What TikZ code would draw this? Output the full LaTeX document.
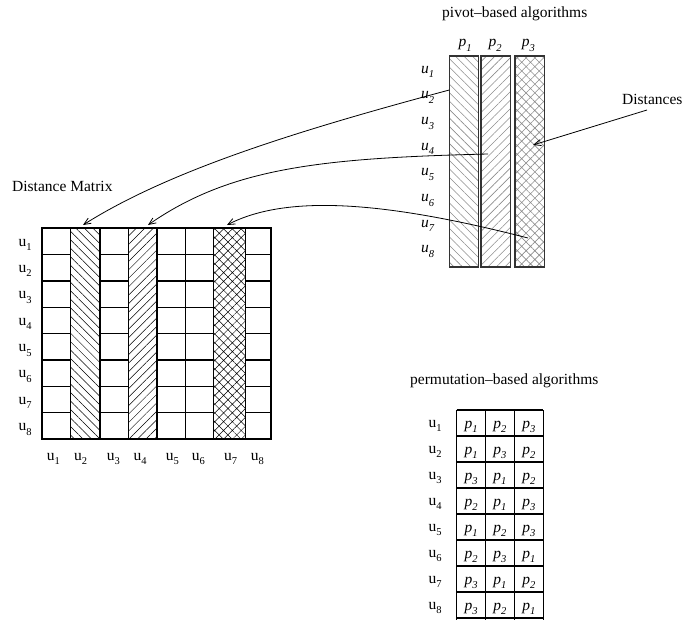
\documentclass[tikz,border=0pt]{standalone}
\usepackage{fontspec}
\setmainfont{Liberation Serif}
\usetikzlibrary{patterns.meta,arrows.meta}
\newcommand\lbsz{\fontsize{15.5}{18}\selectfont}
\newcommand\subsz{\fontsize{10.5}{12}\selectfont}
\newcommand\uu[1]{u\raisebox{-0.3em}{\subsz #1}}
\newcommand\iu[1]{\textit{u}\raisebox{-0.3em}{\subsz\itshape #1}}
\newcommand\ip[1]{\textit{p}\raisebox{-0.3em}{\subsz\itshape #1}}
\begin{document}
\begin{tikzpicture}[x=1pt,y=-1pt,
  lbl/.style={font=\lbsz, inner sep=0pt, anchor=base west},
  cell/.style={font=\lbsz, inner sep=0pt, anchor=base},
  grid/.style={line width=1.1pt, draw=black},
  mcol/.style={draw=black, line width=1.1pt, inner sep=0pt, minimum height=210.7pt},
  pivbox/.style={draw=black!80, line width=1.3pt, inner sep=0pt, minimum height=211pt, minimum width=29.3pt},
  link/.style={-{Straight Barb[length=7pt,width=6pt]}, line width=0.8pt}]
\useasboundingbox (0,0) rectangle (683,619);

% ---------- Distance matrix ----------
\node[lbl] (dmtitle) at (12,191.5) {Distance Matrix};
\node[mcol, minimum width=29.3pt, pattern={Lines[angle=-45,distance=6pt,line width=0.5pt]}, pattern color=black] (mc2) at (85.35,333.65) {};
\node[mcol, minimum width=28.3pt, pattern={Lines[angle=45,distance=6pt,line width=0.5pt]}, pattern color=black] (mc4) at (142.8,333.65) {};
\node[mcol, minimum width=32.4pt, pattern={Hatch[angle=45,distance=6.2pt,line width=0.5pt]}, pattern color=black] (mc7) at (229.5,333.65) {};
\foreach \k in {1,...,7} {
  \pgfmathsetmacro\yy{228.3+26.3375*\k}
  \draw[grid] (41.7,\yy) -- (70.7,\yy) (100,\yy) -- (128.3,\yy) (157.3,\yy) -- (213.3,\yy) (245.7,\yy) -- (270.7,\yy);
}
\foreach \xx in {70.7,100,128.3,157.3,185.7,213.3,245.7}
  \draw[grid] (\xx,228.3) -- (\xx,439);
\draw[line width=1.7pt] (41.7,228.3) rectangle (270.7,439);
\foreach \k in {1,...,8}
  \node[lbl] (mrow\k) at (18.3,{241.5+26.3375*(\k-1)+4.5}) {\uu{\k}};
\foreach \k/\xx in {1/46.7,2/74,3/106.7,4/133.3,5/165.7,6/191.7,7/224,8/250.7}
  \node[lbl] (mcl\k) at (\xx,460) {\uu{\k}};

% ---------- pivot-based ----------
\node[lbl] (pvtitle) at (442,17) {pivot–based algorithms};
\node[pivbox, pattern={Lines[angle=-45,distance=6pt,line width=0.6pt]}, pattern color=black!45] (pv1) at (464,161.5) {};
\node[pivbox, pattern={Lines[angle=45,distance=6pt,line width=0.6pt]}, pattern color=black!45] (pv2) at (495.5,161.5) {};
\node[pivbox, pattern={Hatch[angle=45,distance=6.2pt,line width=0.6pt]}, pattern color=black!45] (pv3) at (529.6,161.5) {};
\foreach \k/\xx in {1/458.3,2/488.3,3/521.7}
  \node[lbl] (pp\k) at (\xx,46.5) {\ip{\k}};
\foreach \k in {1,...,8}
  \node[lbl] (pu\k) at (421,{73+25.7*(\k-1)}) {\iu{\k}};
\node[lbl] (dist) at (622,104) {Distances};

% ---------- permutation-based ----------
\node[lbl] (pmtitle) at (410,384) {permutation–based algorithms};
\foreach \k in {0,...,8}
  \draw[grid] (456.7,{410+26*\k}) -- (543.3,{410+26*\k});
\foreach \xx in {456.7,485.3,514.3,543.3}
  \draw[grid] (\xx,410) -- (\xx,620);
\foreach \k/\a/\b/\c in {1/1/2/3,2/1/3/2,3/3/1/2,4/2/1/3,5/1/2/3,6/2/3/1,7/3/1/2,8/3/2/1} {
  \node[lbl] (tu\k) at (428.3,{427+26*(\k-1)}) {\uu{\k}};
  \node[cell] (ta\k) at (471,{428+26*(\k-1)}) {\ip{\a}};
  \node[cell] (tb\k) at (499.8,{428+26*(\k-1)}) {\ip{\b}};
  \node[cell] (tc\k) at (528.8,{428+26*(\k-1)}) {\ip{\c}};
}

% ---------- connectors ----------
\coordinate (s1) at (449.3,90);  \coordinate (e1) at (83,225);
\coordinate (s2) at (488,154);   \coordinate (e2) at (148,225);
\coordinate (s3) at (528,238);   \coordinate (e3) at (227,225);
\coordinate (s4) at (647,110);   \coordinate (e4) at (533,145);
\draw[link] (s1) .. controls (300,130) and (170,170) .. (e1);
\draw[link] (s2) .. controls (320,158) and (230,168) .. (e2);
\draw[link] (s3) .. controls (380,200) and (285,195) .. (e3);
\draw[link] (s4) -- (e4);
\end{tikzpicture}
\end{document}
